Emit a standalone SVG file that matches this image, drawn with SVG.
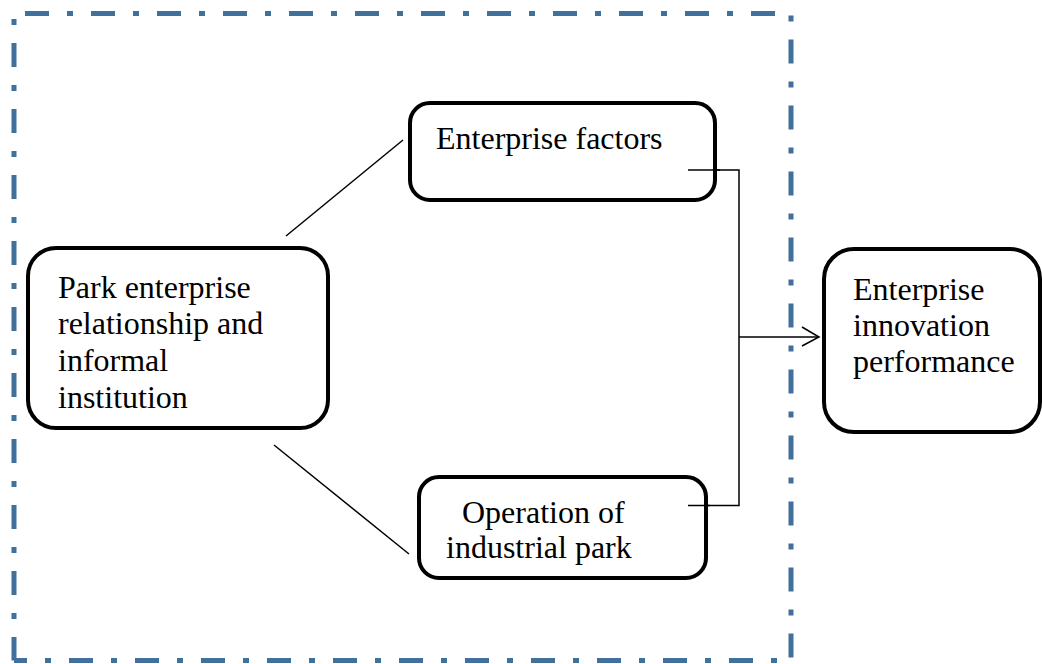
<svg xmlns="http://www.w3.org/2000/svg" width="1042" height="664" viewBox="0 0 1042 664">
  <style>
    .frame { fill: none; stroke: #41709C; stroke-width: 5; stroke-dasharray: 24 18 6 18; }
    .box { fill: #ffffff; stroke: #000000; stroke-width: 4; }
    .link { fill: none; stroke: #000000; stroke-width: 1.5; }
    .label { font-family: "Liberation Serif", "Times New Roman", serif; font-size: 32px; fill: #000000; }
  </style>
  <rect width="1042" height="664" fill="#ffffff"/>

  <!-- dash-dot boundary around the park -->
  <g id="boundary">
    <path class="frame" d="M14 13.5 H791" stroke-dashoffset="55"/>
    <path class="frame" d="M791 13.5 V660.5" stroke-dashoffset="40"/>
    <path class="frame" d="M14 660.5 H791" stroke-dashoffset="11"/>
    <path class="frame" d="M14 13.5 V660.5" stroke-dashoffset="36.5"/>
  </g>

  <!-- connectors -->
  <g id="connectors">
    <line class="link" x1="286" y1="236" x2="403" y2="140" stroke-width="2"/>
    <line class="link" x1="274" y1="445" x2="409" y2="554"/>
    <path class="link" d="M688 170 H739 V505.5 H688"/>
    <line class="link" x1="739" y1="337" x2="819" y2="337"/>
    <path class="link" d="M802 327 L819 337 L802 346"/>
  </g>

  <g id="node-park">
    <rect class="box" x="28" y="248" width="300" height="180" rx="28"/>
    <text class="label" x="58" y="298">Park enterprise</text>
    <text class="label" x="58" y="334">relationship and</text>
    <text class="label" x="58" y="371">informal</text>
    <text class="label" x="58" y="408">institution</text>
  </g>

  <g id="node-enterprise-factors">
    <rect class="box" x="410" y="103" width="305" height="97" rx="20"/>
    <text class="label" x="436" y="149">Enterprise factors</text>
  </g>

  <g id="node-operation">
    <rect class="box" x="419" y="477" width="287" height="101" rx="20"/>
    <text class="label" x="462" y="523">Operation of</text>
    <text class="label" x="446" y="558">industrial park</text>
  </g>

  <g id="node-performance">
    <rect class="box" x="824" y="249" width="216" height="183" rx="30"/>
    <text class="label" x="853" y="300">Enterprise</text>
    <text class="label" x="853" y="336">innovation</text>
    <text class="label" x="853" y="372">performance</text>
  </g>

  <!-- bracket ticks drawn over the box edges -->
  <g id="bracket-ticks">
    <line class="link" x1="688" y1="170" x2="720" y2="170"/>
    <line class="link" x1="688" y1="505.5" x2="710" y2="505.5"/>
  </g>
</svg>
